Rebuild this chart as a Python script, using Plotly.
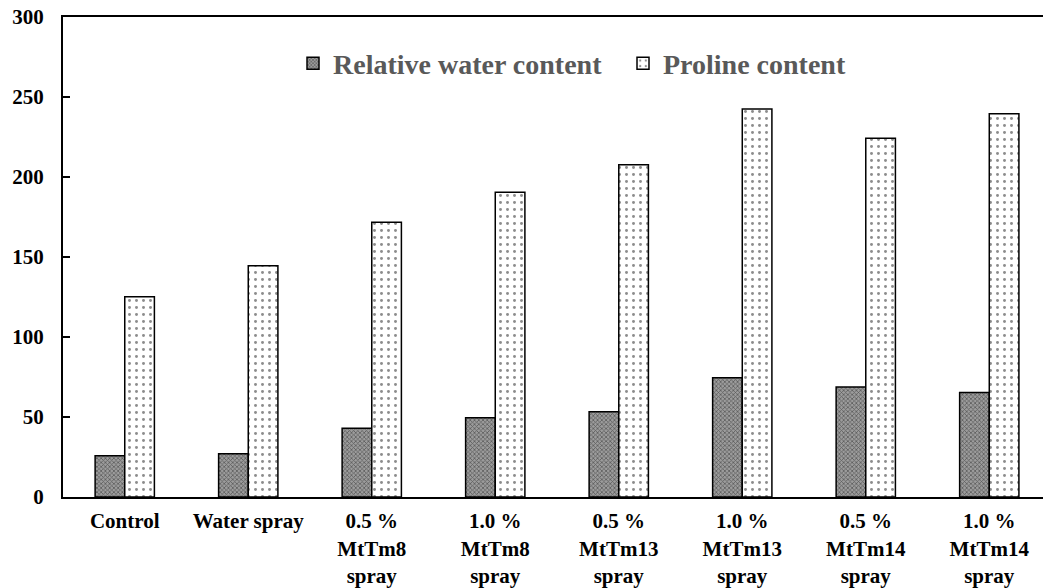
import plotly.graph_objects as go

categories = ["Control", "Water spray", "0.5 %<br>MtTm8<br>spray", "1.0 %<br>MtTm8<br>spray",
              "0.5 %<br>MtTm13<br>spray", "1.0 %<br>MtTm13<br>spray",
              "0.5 %<br>MtTm14<br>spray", "1.0 %<br>MtTm14<br>spray"]
rwc = [25.8, 27.1, 43.0, 49.6, 53.3, 74.6, 68.8, 65.3]
proline = [125.2, 144.6, 171.7, 190.4, 207.7, 242.5, 224.2, 239.6]
y_ticks = [0, 50, 100, 150, 200, 250, 300]

FONT = "'Liberation Serif', 'Times New Roman', 'DejaVu Serif', serif"

fig = go.Figure()
fig.add_trace(go.Bar(
    name="Relative water content", x=categories, y=rwc,
    marker=dict(color="#909090", line=dict(color="black", width=1.5),
                pattern=dict(shape="x", size=3, solidity=0.45, fgcolor="#1a1a1a", bgcolor="#9c9c9c")),
))
fig.add_trace(go.Bar(
    name="Proline content", x=categories, y=proline,
    marker=dict(color="white", line=dict(color="black", width=1.5),
                pattern=dict(shape=".", size=7, solidity=0.14, fgcolor="#1a1a1a", bgcolor="white")),
))

fig.update_layout(
    width=1043, height=588,
    margin=dict(l=63, r=0, t=17, b=91, autoexpand=False),
    paper_bgcolor="white", plot_bgcolor="white",
    barmode="group", bargap=0.52, bargroupgap=0,
    font=dict(family=FONT, color="black"),
    showlegend=True,
    legend=dict(orientation="h", x=0.2347, y=0.955, xanchor="left", yanchor="top",
                entrywidth=285,
                font=dict(family=FONT, size=28, color="#595959", weight="bold"),
                bgcolor="rgba(0,0,0,0)", itemclick=False),
)
fig.update_xaxes(
    range=[-0.5, 7.435], showline=True, linecolor="black", linewidth=2, mirror=True,
    ticks="", showgrid=False, zeroline=False, automargin=False,
    tickfont=dict(family=FONT, size=21, color="black", weight="bold"),
    ticklabelstandoff=4,
)
fig.update_yaxes(
    range=[0, 300], tickvals=y_ticks, ticktext=[str(v) for v in y_ticks],
    showline=True, linecolor="black", linewidth=2, mirror=False,
    ticks="inside", ticklen=7, tickcolor="black", tickwidth=1.5,
    showgrid=False, zeroline=False, automargin=False,
    tickfont=dict(family=FONT, size=21, color="black", weight="bold"),
    ticklabelstandoff=13,
)

fig.write_html("out.html", config={"displayModeBar": False},
               post_script="document.body.style.margin='0';document.body.style.padding='0';")
